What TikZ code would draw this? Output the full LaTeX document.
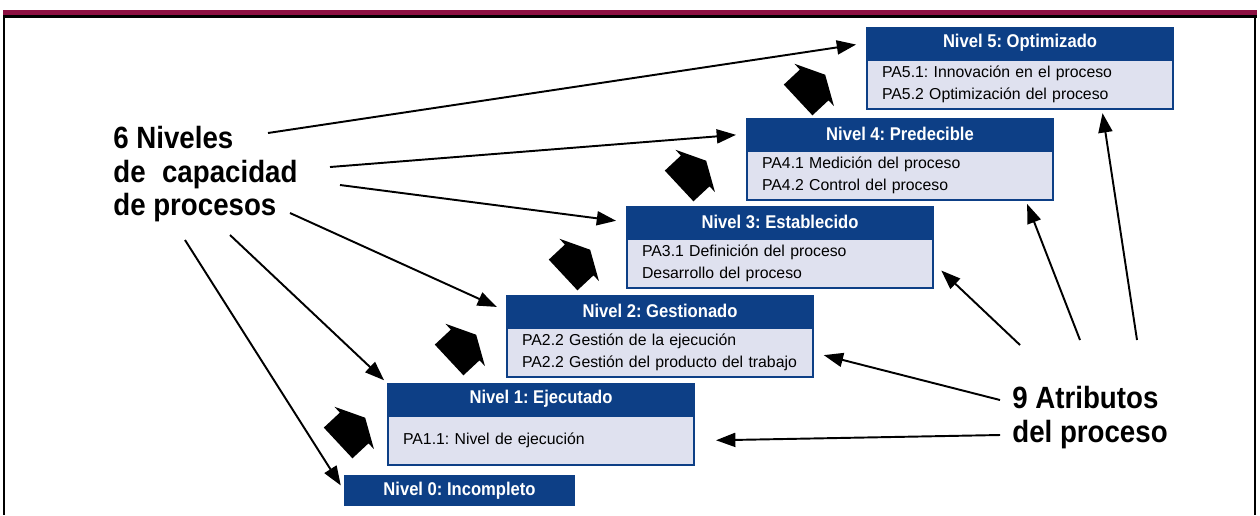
\documentclass[tikz,border=0pt]{standalone}
\usepackage{fontspec}
\setmainfont{Liberation Sans}
\newfontfamily\condbf{Liberation Sans}[FakeStretch=0.9]
\usetikzlibrary{arrows.meta}
\definecolor{nivblue}{HTML}{0D3F86}
\definecolor{nivbody}{HTML}{DFE1EF}
\definecolor{barred}{HTML}{8C1042}
\frenchspacing

\begin{document}
\begin{tikzpicture}[x=0.02cm, y=-0.02cm,
  hdr/.style={draw=nivblue, line width=1.2pt, fill=nivblue, text=white, anchor=north west, inner sep=0pt, minimum width=6.12cm, minimum height=0.6cm, font=\condbf\bfseries\fontsize{10.5}{12}\selectfont},
  body/.style={draw=nivblue, line width=1.2pt, fill=nivbody, anchor=north west, inner xsep=0.3cm, inner ysep=0pt, minimum width=6.12cm, minimum height=0.98cm, text width=5.52cm, align=left, font=\fontsize{9}{12.5}\selectfont},
  big/.style={anchor=north west, inner sep=0pt, align=left, font=\condbf\bfseries\fontsize{17.5}{19}\selectfont},
  conn/.style={line width=1.1pt, -{Triangle[length=11pt,width=8pt]}, shorten >=0.2cm},
  stepup/.pic={\fill[black] (-19,-21) -- (3,-21) -- (3,-29) -- (18,0) -- (3,29) -- (3,21) -- (-19,21) -- cycle;}]
\useasboundingbox (0,0) rectangle (1260,515);
%%%%%%%%%%%%%%%%%%%
\fill[barred] (3,10) rectangle (1257,15);
\fill[black] (3,15) rectangle (1257,18);
\draw[line width=0.04cm] (4,17) -- (4,515);
\draw[line width=0.04cm] (1255,17) -- (1255,515);

%%%%%%%%%%%%%%%%%%%
\node[hdr] (h5) at (866,27) {Nivel 5: Optimizado};
\node[body] (b5) at (h5.south west) {PA5.1: Innovación en el proceso\\PA5.2 Optimización del proceso};
\node[hdr] (h4) at (746,118) {Nivel 4: Predecible};
\node[body] (b4) at (h4.south west) {PA4.1 Medición del proceso\\PA4.2 Control del proceso};
\node[hdr] (h3) at (626,206) {Nivel 3: Establecido};
\node[body] (b3) at (h3.south west) {PA3.1 Definición del proceso\\Desarrollo del proceso};
\node[hdr] (h2) at (506,295) {Nivel 2: Gestionado};
\node[body] (b2) at (h2.south west) {PA2.2 Gestión de la ejecución\\PA2.2 Gestión del producto del trabajo};
\node[hdr] (h1) at (387,383) {Nivel 1: Ejecutado};
\node[body] (b1) at (h1.south west) {PA1.1: Nivel de ejecución};
\node[hdr, minimum width=4.58cm, minimum height=0.58cm] (n0) at (344,475) {Nivel 0: Incompleto};

\node[big] (niv) at (113,126) {6 Niveles\\de\hspace{5pt} capacidad\\de procesos};
\node[big] (atr) at (1012,386) {9 Atributos\\del proceso};

%%%%%%%%%%%%%%%%%%%
\pic[rotate=43] at (352,430) {stepup};
\pic[rotate=43] at (463,347) {stepup};
\pic[rotate=43] at (577,262) {stepup};
\pic[rotate=43] at (693,173) {stepup};
\pic[rotate=43] at (812,87) {stepup};

%%%%%%%%%%%%%%%%%%%
\coordinate (l5) at (268,133);
\coordinate (l4) at (330,167);
\coordinate (l3) at (340,185);
\coordinate (l2) at (290,213);
\coordinate (l1) at (230,235);
\coordinate (l0) at (185,240);
\coordinate (r1) at (1000,435);
\coordinate (r2) at (1000,400);
\coordinate (r3) at (1020,345);
\coordinate (r4) at (1080,340);
\coordinate (r5) at (1137,340);

\draw[conn] (l5) -- (h5.west);
\draw[conn] (l4) -- (h4.west);
\draw[conn] (l3) -- (h3.west);
\draw[conn] (l2) -- (h2.west);
\draw[conn, shorten >=0.08cm] (l1) -- (h1.north west);
\draw[conn, shorten >=0.12cm] (l0) -- (n0.west);
\draw[conn, shorten >=0.42cm] (r1) -- (b1.east);
\draw[conn] (r2) -- (b2.east);
\draw[conn, shorten >=0.2cm] (r3) -- (b3.east);
\draw[conn, shorten >=0.06cm] (r4) -- ([xshift=-0.56cm]b4.south east);
\draw[conn, shorten >=0.06cm] (r5) -- ([xshift=-1.44cm]b5.south east);
\end{tikzpicture}
\end{document}
